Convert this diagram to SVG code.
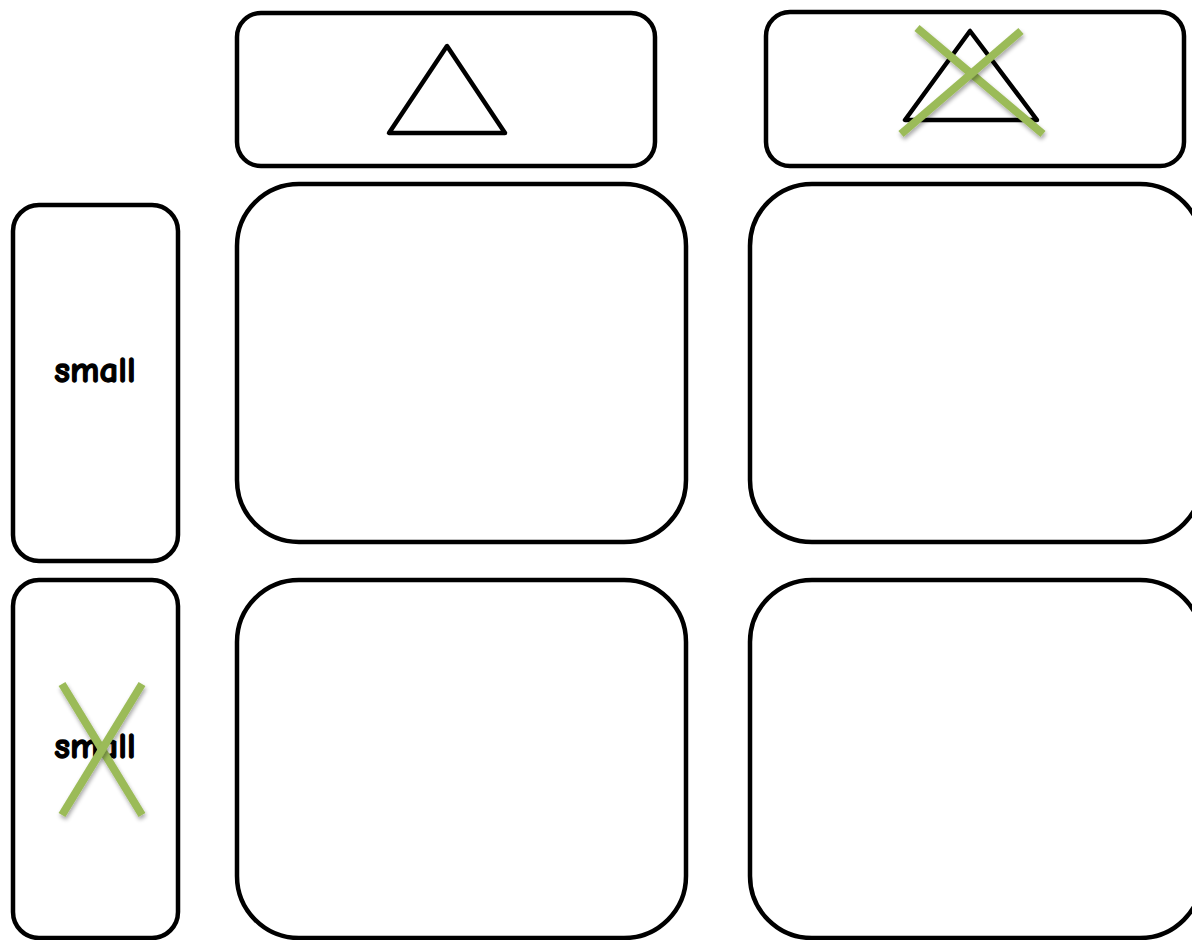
<svg xmlns="http://www.w3.org/2000/svg" width="1192" height="940" viewBox="0 0 1192 940">
<defs>
<style>
.box{fill:#fff;stroke:#000;stroke-width:4.5}
.tri{fill:none;stroke:#000;stroke-width:4.5;stroke-linejoin:round}
.x{stroke:#9BBB59;stroke-width:8;filter:url(#sh)}
.lbl{font-family:"Comic Neue","DejaVu Sans",sans-serif;font-weight:bold;font-size:37px;fill:#000;stroke:#000;stroke-width:1.3;text-anchor:middle}
</style>
<filter id="sh" x="-20%" y="-20%" width="140%" height="140%">
<feGaussianBlur in="SourceAlpha" stdDeviation="2"/>
<feOffset dx="1" dy="3"/>
<feComponentTransfer><feFuncA type="linear" slope="0.35"/></feComponentTransfer>
<feMerge><feMergeNode/><feMergeNode in="SourceGraphic"/></feMerge>
</filter>
</defs>
<rect width="1192" height="940" fill="#fff"/>
<g id="top1">
<rect class="box" x="237" y="13" width="418" height="153" rx="24"/>
<polygon class="tri" points="447,46 389,133 505,133"/>
</g>
<g id="top2">
<rect class="box" x="766" y="12" width="418" height="154" rx="24"/>
<polygon class="tri" points="970,31 905,120 1037,120"/>
<line class="x" x1="917" y1="28" x2="1043" y2="134"/>
<line class="x" x1="1021" y1="31" x2="901" y2="134"/>
</g>
<g id="left1">
<rect class="box" x="13" y="205" width="165" height="356" rx="26"/>
<text class="lbl" x="95" y="382">small</text>
</g>
<g id="left2">
<rect class="box" x="13" y="580" width="165" height="358" rx="26"/>
<text class="lbl" x="95" y="758">small</text>
<line class="x" x1="62" y1="684" x2="142" y2="815"/>
<line class="x" x1="142" y1="684" x2="62" y2="815"/>
</g>
<g id="cell11"><rect class="box" x="237" y="184" width="449" height="358" rx="62"/></g>
<g id="cell12"><rect class="box" x="750" y="184" width="452" height="358" rx="62"/></g>
<g id="cell21"><rect class="box" x="237" y="580" width="449" height="358" rx="62"/></g>
<g id="cell22"><rect class="box" x="750" y="580" width="452" height="358" rx="62"/></g>
<g id="connectors"/>
</svg>
